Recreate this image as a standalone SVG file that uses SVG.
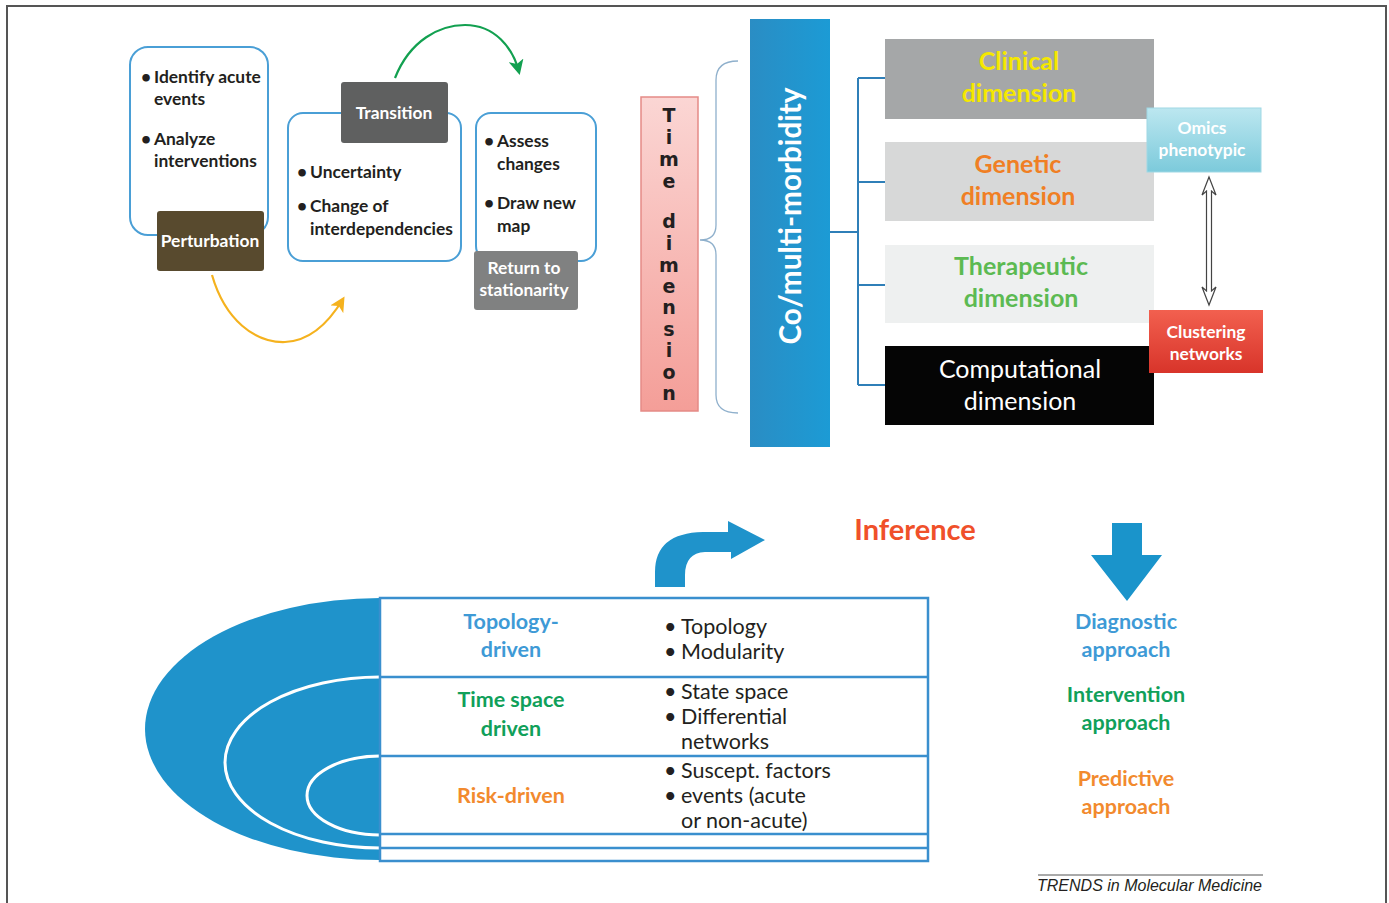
<svg xmlns="http://www.w3.org/2000/svg" width="1389" height="903" viewBox="0 0 1389 903">
<style>
.t{font-family:Lato,"Open Sans","Liberation Sans",sans-serif}
.tl{font-size:17.4px;fill:#231f20;font-weight:bold}
.wl{font-size:17.4px;fill:#fff;font-weight:bold;text-anchor:middle}
.dim{font-size:25px;font-weight:bold;text-anchor:middle}
.tbh{font-size:21.5px;font-weight:bold;text-anchor:middle}
.tbb{font-size:21.5px;fill:#231f20}
.apx{font-size:21.5px;font-weight:bold;text-anchor:middle}
.box{fill:#fff;stroke:#4a9fd6;stroke-width:2}
.conn{fill:none;stroke:#2f7fb8;stroke-width:2}
.tm{font-family:"DejaVu Sans",sans-serif;font-size:19px;font-weight:bold;fill:#231f20;text-anchor:middle}
</style>
<defs>
<marker id="ahG" viewBox="0 0 20 20" refX="16" refY="10" markerWidth="15" markerHeight="15" markerUnits="userSpaceOnUse" orient="auto">
<path d="M0,0 L20,10 L0,20 L5,10 Z" fill="#12a050"/>
</marker>
<marker id="ahY" viewBox="0 0 20 20" refX="16" refY="10" markerWidth="15" markerHeight="15" markerUnits="userSpaceOnUse" orient="auto">
<path d="M0,0 L20,10 L0,20 L5,10 Z" fill="#f5b21e"/>
</marker>
<linearGradient id="gTime" x1="0" y1="0" x2="0" y2="1">
<stop offset="0" stop-color="#fbd6d4"/><stop offset="1" stop-color="#f49e98"/>
</linearGradient>
<linearGradient id="gBar" x1="0" y1="0" x2="1" y2="0">
<stop offset="0" stop-color="#2a8dc4"/><stop offset="1" stop-color="#1c9bd5"/>
</linearGradient>
<linearGradient id="gOm" x1="0" y1="0" x2="0" y2="1">
<stop offset="0" stop-color="#bce7f0"/><stop offset="1" stop-color="#7ccadb"/>
</linearGradient>
<linearGradient id="gCl" x1="0" y1="0" x2="0" y2="1">
<stop offset="0" stop-color="#f2604f"/><stop offset="1" stop-color="#d8342a"/>
</linearGradient>
</defs>

<g id="frame">
<path d="M7,903 L7,6 L1386,6 L1386,903" fill="none" stroke="#555" stroke-width="2"/>
</g>

<g id="connectors">
<path d="M395,78 C410,40 440,25 465,25 C495,25 513,48 519,72" fill="none" stroke="#12a050" stroke-width="2.2" marker-end="url(#ahG)"/>
<path d="M212,275 C225,320 255,343 285,342 C310,341 328,324 343,299" fill="none" stroke="#f5b21e" stroke-width="2.2" marker-end="url(#ahY)"/>
<path d="M738,61 Q716,61 716,80 L716,225 Q716,240 700,240 Q716,240 716,255 L716,395 Q716,413 738,413" fill="none" stroke="#8fb0cc" stroke-width="1.3"/>
<path class="conn" d="M830,232 L858,232 M858,78 L858,385 M858,78 L885,78 M858,182 L885,182 M858,285 L885,285 M858,385 L885,385"/>
<polygon points="1209,177 1216,195 1211.5,191 1211.5,291 1216,287 1209,305 1202,287 1206.5,291 1206.5,191 1202,195" fill="#fff" stroke="#444" stroke-width="1.2"/>
</g>

<g id="identify" class="t">
<rect class="box" x="130" y="47" width="138" height="188" rx="18"/>
<text class="tl" x="141" y="83">•</text><text class="tl" x="154" y="83">Identify acute</text>
<text class="tl" x="154" y="105">events</text>
<text class="tl" x="141" y="145">•</text><text class="tl" x="154" y="145">Analyze</text>
<text class="tl" x="154" y="167">interventions</text>
</g>
<g id="perturbation" class="t">
<rect x="157" y="211" width="107" height="60" rx="3" fill="#584a2e"/>
<text class="wl" x="210" y="247">Perturbation</text>
</g>

<g id="uncertainty" class="t">
<rect class="box" x="288" y="113" width="173" height="148" rx="15"/>
<text class="tl" x="297" y="178">•</text><text class="tl" x="310" y="178">Uncertainty</text>
<text class="tl" x="297" y="212">•</text><text class="tl" x="310" y="212">Change of</text>
<text class="tl" x="310" y="235">interdependencies</text>
</g>
<g id="transition" class="t">
<rect x="341" y="82" width="107" height="61" rx="3" fill="#5f6060"/>
<text class="wl" x="394" y="119">Transition</text>
</g>

<g id="assess" class="t">
<rect class="box" x="476" y="113" width="120" height="148" rx="15"/>
<text class="tl" x="484" y="147">•</text><text class="tl" x="497" y="147">Assess</text>
<text class="tl" x="497" y="170">changes</text>
<text class="tl" x="484" y="209">•</text><text class="tl" x="497" y="209">Draw new</text>
<text class="tl" x="497" y="232">map</text>
</g>
<g id="return" class="t">
<rect x="474" y="251" width="104" height="59" rx="3" fill="#808181"/>
<text class="wl" x="524" y="274">Return to</text>
<text class="wl" x="524" y="296">stationarity</text>
</g>

<g id="time">
<rect x="641" y="97" width="57" height="314" fill="url(#gTime)" stroke="#e58a86" stroke-width="1.5"/>
<text class="tm" x="669" y="122">T</text>
<text class="tm" x="669" y="144">i</text>
<text class="tm" x="669" y="166">m</text>
<text class="tm" x="669" y="188">e</text>
<text class="tm" x="669" y="228">d</text>
<text class="tm" x="669" y="250">i</text>
<text class="tm" x="669" y="272">m</text>
<text class="tm" x="669" y="293">e</text>
<text class="tm" x="669" y="314">n</text>
<text class="tm" x="669" y="336">s</text>
<text class="tm" x="669" y="357">i</text>
<text class="tm" x="669" y="379">o</text>
<text class="tm" x="669" y="400">n</text>
</g>

<g id="comorbidity" class="t">
<rect x="750" y="19" width="80" height="428" fill="url(#gBar)"/>
<text transform="translate(801,216) rotate(-90)" text-anchor="middle" font-size="30" fill="#fff" font-weight="bold" textLength="257" lengthAdjust="spacingAndGlyphs">Co/multi-morbidity</text>
</g>

<g id="clinical" class="t">
<rect x="885" y="39" width="269" height="80" fill="#a5a7a8"/>
<text class="dim" x="1019" y="70" fill="#f5e800">Clinical</text>
<text class="dim" x="1019" y="102" fill="#f5e800">dimension</text>
</g>
<g id="genetic" class="t">
<rect x="885" y="142" width="269" height="79" fill="#d7d8d8"/>
<text class="dim" x="1018" y="173" fill="#f07f24">Genetic</text>
<text class="dim" x="1018" y="205" fill="#f07f24">dimension</text>
</g>
<g id="therapeutic" class="t">
<rect x="885" y="245" width="269" height="78" fill="#eef0f0"/>
<text class="dim" x="1021" y="275" fill="#5cba52">Therapeutic</text>
<text class="dim" x="1021" y="307" fill="#5cba52">dimension</text>
</g>
<g id="computational" class="t">
<rect x="885" y="346" width="269" height="79" fill="#050505"/>
<text x="1020" y="378" font-size="25" fill="#fff" text-anchor="middle">Computational</text>
<text x="1020" y="410" font-size="25" fill="#fff" text-anchor="middle">dimension</text>
</g>
<g id="omics" class="t">
<rect x="1147" y="108" width="114" height="64" fill="url(#gOm)" stroke="#9fd8e4" stroke-width="1"/>
<text class="wl" x="1202" y="134">Omics</text>
<text class="wl" x="1202" y="156">phenotypic</text>
</g>
<g id="clustering" class="t">
<rect x="1149" y="310" width="114" height="63" fill="url(#gCl)"/>
<text class="wl" x="1206" y="338">Clustering</text>
<text class="wl" x="1206" y="360">networks</text>
</g>

<g id="layers">
<path d="M380,598 A235,131 0 0 0 380,860 Z" fill="#1f93cb"/>
<path d="M380,677 A155,85.5 0 0 0 380,848" fill="none" stroke="#fff" stroke-width="3"/>
<path d="M380,756 A73,39.5 0 0 0 380,835" fill="none" stroke="#fff" stroke-width="3"/>
<rect x="380" y="598" width="548" height="263" fill="#fff" stroke="#3a8fce" stroke-width="2.5"/>
<path d="M380,677 L928,677 M380,756 L928,756 M380,834 L928,834 M380,848 L928,848" stroke="#3a8fce" stroke-width="2.5"/>
</g>

<g id="topology" class="t">
<text class="tbh" x="511" y="629" fill="#3e9ad6">Topology-</text>
<text class="tbh" x="511" y="657" fill="#3e9ad6">driven</text>
<text class="tbb" x="664" y="634">•</text><text class="tbb" x="681" y="634">Topology</text>
<text class="tbb" x="664" y="659">•</text><text class="tbb" x="681" y="659">Modularity</text>
</g>
<g id="timespace" class="t">
<text class="tbh" x="511" y="707" fill="#10a05a">Time space</text>
<text class="tbh" x="511" y="736" fill="#10a05a">driven</text>
<text class="tbb" x="664" y="699">•</text><text class="tbb" x="681" y="699">State space</text>
<text class="tbb" x="664" y="724">•</text><text class="tbb" x="681" y="724">Differential</text>
<text class="tbb" x="681" y="749">networks</text>
</g>
<g id="risk" class="t">
<text class="tbh" x="511" y="803" fill="#f28a2e">Risk-driven</text>
<text class="tbb" x="664" y="778">•</text><text class="tbb" x="681" y="778">Suscept. factors</text>
<text class="tbb" x="664" y="803">•</text><text class="tbb" x="681" y="803">events (acute</text>
<text class="tbb" x="681" y="828">or non-acute)</text>
</g>

<g id="inference" class="t">
<path d="M655,587 L655,572 Q655,533 703,532 L728,532 L728,521 L765,540 L731,559 L731,552 L705,552 Q685,553 685,575 L685,587 Z" fill="#1f93cb"/>
<text x="915" y="540" font-size="29" font-weight="bold" fill="#f0502a" text-anchor="middle">Inference</text>
</g>

<g id="approaches" class="t">
<path d="M1112,523 L1142,523 L1142,555 L1162,555 L1127,601 L1091,555 L1112,555 Z" fill="#1a94cb"/>
<text class="apx" x="1126" y="629" fill="#3e9ad6">Diagnostic</text>
<text class="apx" x="1126" y="657" fill="#3e9ad6">approach</text>
<text class="apx" x="1126" y="702" fill="#10a05a">Intervention</text>
<text class="apx" x="1126" y="730" fill="#10a05a">approach</text>
<text class="apx" x="1126" y="786" fill="#f28a2e">Predictive</text>
<text class="apx" x="1126" y="814" fill="#f28a2e">approach</text>
</g>

<g id="footer">
<line x1="1038" y1="875" x2="1263" y2="875" stroke="#555" stroke-width="1"/>
<text x="1262" y="891" font-family="'Liberation Sans',Arial,sans-serif" font-style="italic" font-size="16" fill="#231f20" text-anchor="end">TRENDS in Molecular Medicine</text>
</g>
</svg>
